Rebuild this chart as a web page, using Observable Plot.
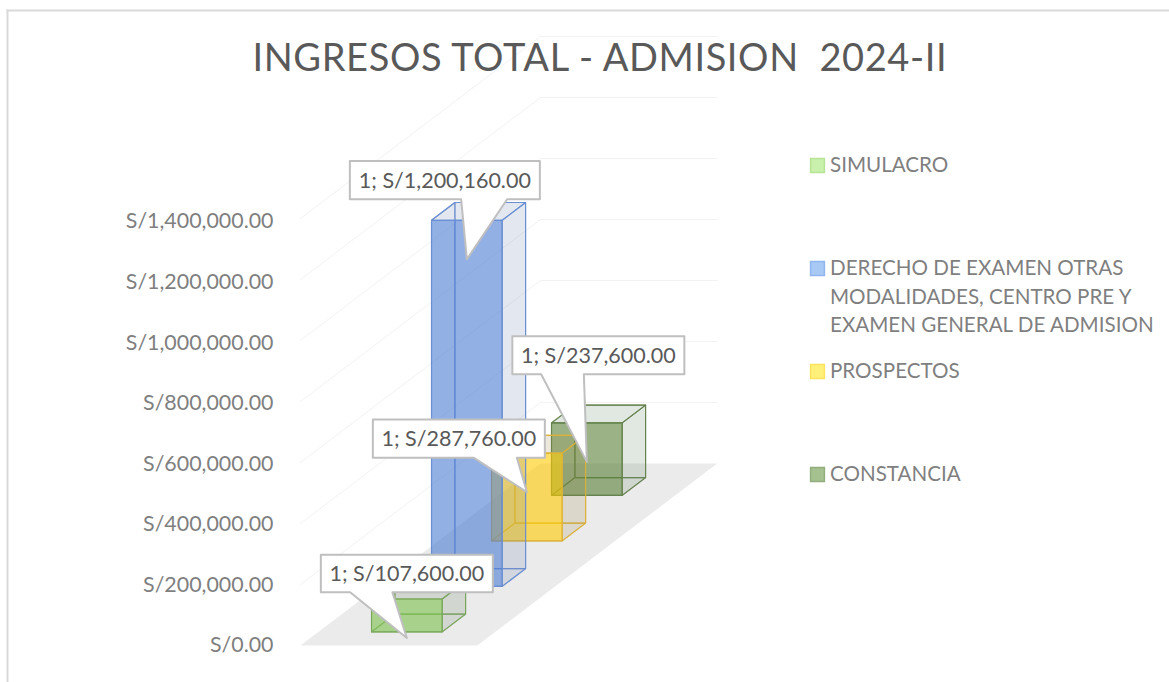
<!DOCTYPE html>
<html>
<head>
<meta charset="utf-8">
<script src="https://cdn.jsdelivr.net/npm/d3@7"></script>
<script src="https://cdn.jsdelivr.net/npm/@observablehq/plot@0.6"></script>
<style>html,body{margin:0;padding:0;background:#fff;overflow:hidden}svg{display:block}</style>
</head>
<body>
<div id="chart"></div>
<script>
// --- data ---
const chartTitle = "INGRESOS TOTAL - ADMISION  2024-II";
const seriesNames = ["SIMULACRO", "DERECHO DE EXAMEN OTRAS MODALIDADES, CENTRO PRE Y EXAMEN GENERAL DE ADMISION", "PROSPECTOS", "CONSTANCIA"];
const legendLines = [["SIMULACRO"], ["DERECHO DE EXAMEN OTRAS", "MODALIDADES, CENTRO PRE Y", "EXAMEN GENERAL DE ADMISION"], ["PROSPECTOS"], ["CONSTANCIA"]];
const seriesValues = [107600, 1200160, 287760, 237600];
const categoryNumber = 1;
const axisTicks = [0, 200000, 400000, 600000, 800000, 1000000, 1200000, 1400000];

// --- styles ---
const frontColors = ["#7bc14d", "#4b7bd4", "#ffc900", "#577f35"];
const edgeColors = ["#7aa65c", "#6a8fd2", "#dcb13a", "#66834f"];
const shadeColors = ["#64785a", "#6478aa", "#96823c", "#5a785a"];
const legendFills = ["#c9f0ac", "#a9c9f5", "#fff07a", "#a5c190"];
const legendEdges = ["#b6e396", "#8fb6ee", "#ffe25e", "#92ae7e"];

// --- oblique projection: u across the floor (0..1), d depth in category slots (0..4), v value ---
const pxPerValue = 61 / 200000;        // vertical scale of the value axis
const pxPerU = 176.7;                  // floor width
const slotPx = [60, 45.5];             // screen shift of one depth slot
const P = (u, d, v, ox = 0, oy = 0) => ({
  x: u + (d * slotPx[0] + ox) / pxPerU,
  y: v + (d * slotPx[1] - oy) / pxPerValue
});

const barU = [0.3, 0.7], barD = [0.3, 0.69];
const fmt = d3.format(",.2f");
const money = v => "S/" + fmt(v);

function barMarks(i) {
  const [u0, u1] = barU, d0 = barD[0] + i, d1 = barD[1] + i, v = seriesValues[i];
  const line = (pts, o) => Plot.line(pts, {x: "x", y: "y", curve: "linear-closed", strokeWidth: 1.1, stroke: edgeColors[i], ...o});
  const ghost = {fill: "none", strokeOpacity: 0.8};
  const tint = {fill: shadeColors[i], fillOpacity: 0.18};
  return [
    line([P(u0,d1,0), P(u1,d1,0), P(u1,d1,v), P(u0,d1,v)], ghost),                // back
    line([P(u0,d0,0), P(u0,d1,0), P(u0,d1,v), P(u0,d0,v)], ghost),                // left
    line([P(u0,d0,0), P(u1,d0,0), P(u1,d1,0), P(u0,d1,0)], ghost),                // bottom
    line([P(u1,d0,0), P(u1,d1,0), P(u1,d1,v), P(u1,d0,v)], tint),                 // right
    line([P(u0,d0,v), P(u1,d0,v), P(u1,d1,v), P(u0,d1,v)], tint),                 // top
    line([P(u0,d0,0), P(u1,d0,0), P(u1,d0,v), P(u0,d0,v)], {fill: frontColors[i], fillOpacity: 0.6}) // front
  ];
}

// callout layout relative to the tip, in px: box centre x, box width, box top, box bottom, wedge left, wedge right
const tipBelowTop = 39;
const callouts = [
  {cx: 0,    w: 172, top: -83.4, bottom: -45.7, a: -56.7, b: -14.4},
  {cx: -22,  w: 190, top: -98.3, bottom: -60,   a: -5.7,  b: 40.3},
  {cx: -68,  w: 172, top: -72.7, bottom: -34.4, a: -53.3, b: -10},
  {cx: 11.5, w: 172, top: -125.7, bottom: -87.7, a: -45.7, b: -3}
];

function calloutMarks(i) {
  const c = callouts[i], uc = (barU[0] + barU[1]) / 2, d = barD[0] + i, v = seriesValues[i];
  const at = (ox, oy) => P(uc, d, v, ox, oy + tipBelowTop);
  const l = c.cx - c.w / 2, r = c.cx + c.w / 2;
  const outline = [at(l,c.top), at(r,c.top), at(r,c.bottom), at(c.b,c.bottom), at(0,0), at(c.a,c.bottom), at(l,c.bottom)];
  const centre = at(c.cx, (c.top + c.bottom) / 2);
  return [
    Plot.line(outline, {x: "x", y: "y", curve: "linear-closed", fill: "#fff", stroke: "#bfbfbf", strokeWidth: 2}),
    Plot.text([`${categoryNumber}; ${money(v)}`], {x: centre.x, y: centre.y, dy: 0.5, text: d => d, fill: "#595959", fontSize: 21.5, fontFamily: "Lato"})
  ];
}

function gridMarks() {
  const rows = axisTicks.slice(1);
  const wall = rows.flatMap(v => [{x: P(0,4,v).x, y: P(0,4,v).y, v}, {x: P(1,4,v).x, y: P(1,4,v).y, v}]);
  const side = rows.flatMap(v => [{x: P(0,0,v).x, y: P(0,0,v).y, v}, {x: P(0,4,v).x, y: P(0,4,v).y, v}]);
  return [
    Plot.line([P(0,0,0), P(1,0,0), P(1,4,0), P(0,4,0)], {x: "x", y: "y", curve: "linear-closed", fill: "#ebebeb", stroke: "none"}),
    Plot.line(wall, {x: "x", y: "y", z: "v", stroke: "#f2f2f2", strokeWidth: 1}),
    Plot.line(side, {x: "x", y: "y", z: "v", stroke: "#f2f2f2", strokeWidth: 1})
  ];
}

const originX = 7, originY = 10;       // the frame corner that frameAnchor offsets start from

function legendMarks() {
  const rows = [165, 268, 371, 474];
  return seriesNames.flatMap((name, i) => [
    Plot.dot([name], {frameAnchor: "top-left", dx: 817 - originX, dy: rows[i] - originY, symbol: "square", r: 7.8, fill: legendFills[i], stroke: legendEdges[i], strokeWidth: 1.5}),
    ...legendLines[i].map((t, k) => Plot.text([t], {text: d => d, frameAnchor: "top-left", lineAnchor: "middle", dx: 829.5 - originX, dy: rows[i] - originY + k * 28.7, textAnchor: "start", fill: "#7f7f7f", fontSize: 20.6, fontFamily: "Lato"}))
  ]);
}

const spaced = (gap) => (index, scales, values, dims, ctx, next) => {
  const g = next(index, scales, values, dims, ctx);
  g.setAttribute("letter-spacing", gap);
  return g;
};

const chart = Plot.plot({
  width: 1169, height: 682,
  marginTop: originY, marginLeft: originX, marginRight: 0, marginBottom: 0,
  style: {background: "#fff", overflow: "visible"},
  x: {domain: [0, 1], range: [300, 476.7], axis: null},
  y: {domain: [0, 1400000], range: [645, 218], axis: null},
  marks: [
    Plot.frame({anchor: "top", stroke: "#d9d9d9", strokeWidth: 2}),
    Plot.frame({anchor: "left", stroke: "#d9d9d9", strokeWidth: 2}),
    ...gridMarks(),
    ...[3, 2, 1, 0].flatMap(barMarks),
    Plot.axisY(axisTicks, {
      y: d => d * (424 / 427), anchor: "left", dx: 273 - originX, tickSize: 0, tickPadding: 0, label: null,
      text: d => money(d), fill: "#7f7f7f", fontSize: 21.4, fontFamily: "Lato"
    }),
    ...[3, 2, 1, 0].flatMap(calloutMarks),
    ...legendMarks(),
    Plot.text([chartTitle], {text: d => d, frameAnchor: "top-left", lineAnchor: "middle", textAnchor: "start", dx: 252 - originX, dy: 58 - originY, fill: "#595959", fontSize: 38, fontFamily: "Lato", render: spaced("0.6px")})
  ]
});
document.getElementById("chart").appendChild(chart);
</script>
</body>
</html>
